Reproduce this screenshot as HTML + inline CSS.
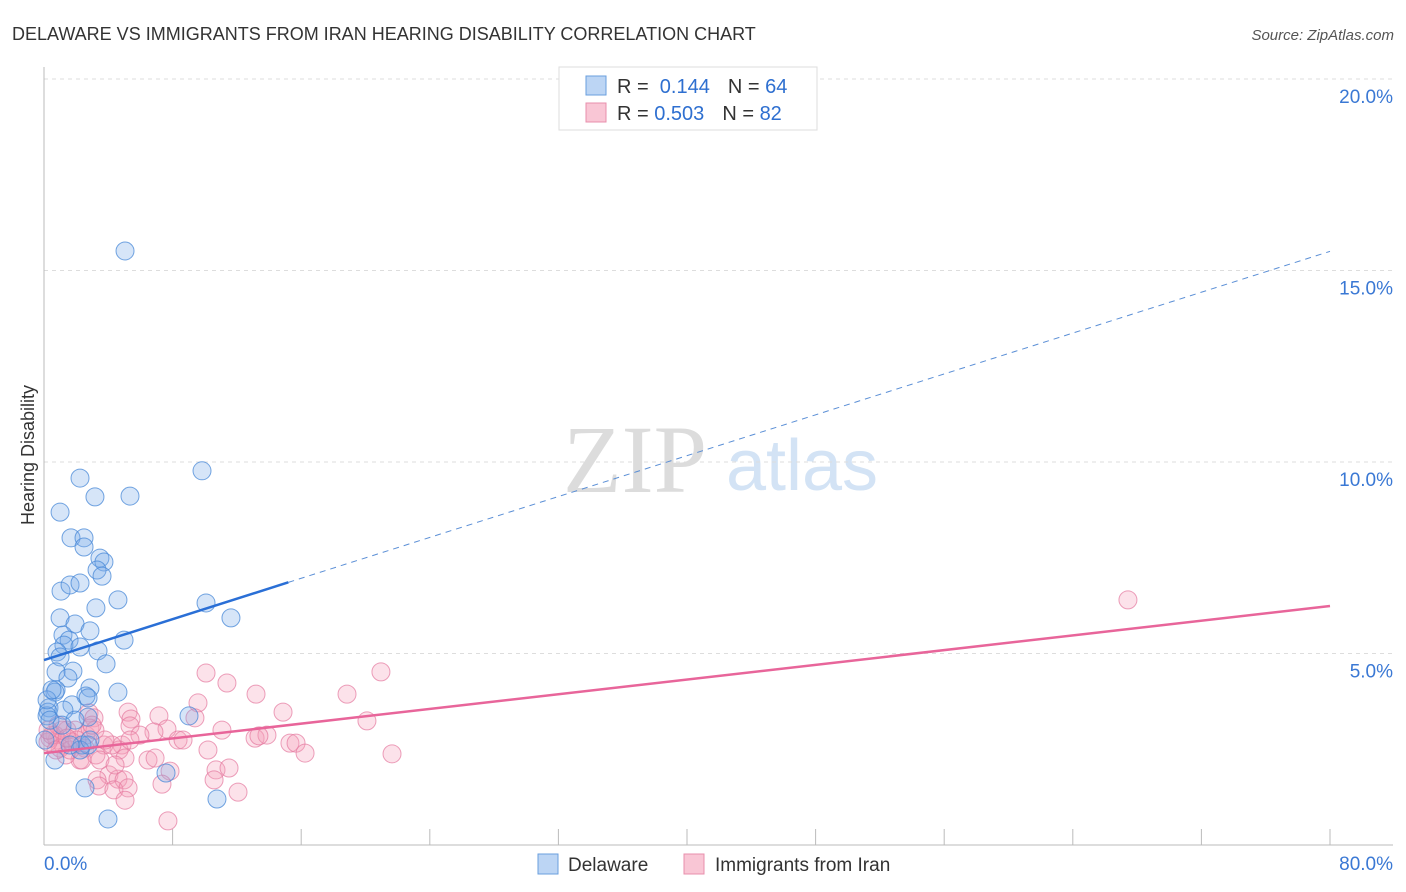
<!DOCTYPE html>
<html><head><meta charset="utf-8"><style>
body{margin:0;background:#fff;font-family:"Liberation Sans",sans-serif;}
svg{display:block}
</style></head><body>
<svg id="chart" width="1406" height="892">
<text x="12" y="40" font-size="18" fill="#333">DELAWARE VS IMMIGRANTS FROM IRAN HEARING DISABILITY CORRELATION CHART</text>
<text x="1394" y="40" font-size="15" fill="#555" font-style="italic" text-anchor="end">Source: ZipAtlas.com</text>
<text transform="translate(34,455) rotate(-90)" font-size="18" fill="#333" text-anchor="middle">Hearing Disability</text>
<g>
<text x="635" y="492" font-size="96" fill="#dcdcdc" font-family="Liberation Serif,serif" text-anchor="middle">ZIP</text>
<text x="802" y="490" font-size="72" fill="#d3e3f5" text-anchor="middle">atlas</text>
</g>
<g id="grid"></g><g id="axes"></g><g id="marks"></g>
<g>
<rect x="559" y="67" width="258" height="63" fill="#fff" stroke="#ddd"/>
<rect x="586" y="76" width="20" height="19" fill="#bcd5f4" stroke="#6a9fde"/>
<rect x="586" y="103" width="20" height="19" fill="#f9c6d5" stroke="#e88fac"/>
<text x="617" y="93" font-size="20" fill="#333">R = <tspan fill="#2e6fd0">&#160;0.144</tspan><tspan dx="18">N = </tspan><tspan fill="#2e6fd0">64</tspan></text>
<text x="617" y="120" font-size="20" fill="#333">R = <tspan fill="#2e6fd0">0.503</tspan><tspan dx="18">N = </tspan><tspan fill="#2e6fd0">82</tspan></text>
</g>
<g>
<rect x="538" y="854" width="20" height="20" fill="#bcd5f4" stroke="#6a9fde"/>
<text x="568" y="871" font-size="19" fill="#333">Delaware</text>
<rect x="684" y="854" width="20" height="20" fill="#f9c6d5" stroke="#e88fac"/>
<text x="715" y="871" font-size="19" fill="#333">Immigrants from Iran</text>
</g>
</svg>
<script>
const yTicks=[5,10,15,20];
const yTickLabels=["5.0%","10.0%","15.0%","20.0%"];
const xTicks=[0,8,16,24,32,40,48,56,64,72,80];
const blueX=[5.04,9.83,2.24,3.17,5.35,1.00,1.68,2.49,2.49,3.48,3.73,3.30,3.61,1.06,1.62,2.24,4.60,3.23,10.08,11.63,1.00,1.93,2.86,4.98,1.18,1.56,1.24,2.24,3.36,0.81,1.00,3.86,1.80,0.75,1.49,0.75,0.68,2.86,4.60,2.61,2.74,0.31,0.25,1.74,1.24,2.74,0.19,0.37,9.02,2.74,2.36,7.59,2.55,10.76,3.98,0.19,0.50,2.24,1.12,1.93,0.68,1.62,0.06,2.86];
const blueY=[15.51,9.77,9.58,9.09,9.11,8.69,8.02,8.02,7.78,7.49,7.39,7.18,7.02,6.63,6.79,6.84,6.40,6.19,6.32,5.93,5.93,5.77,5.59,5.35,5.48,5.35,5.22,5.17,5.07,5.04,4.91,4.73,4.54,4.52,4.36,4.05,3.99,4.10,3.99,3.89,3.84,3.58,3.47,3.66,3.52,3.34,3.37,3.26,3.37,2.61,2.61,1.88,1.49,1.20,0.68,3.79,4.05,2.48,3.13,3.26,2.22,2.61,2.74,2.74];
const pinkX=[67.43,20.96,10.08,11.38,18.85,13.19,9.58,14.87,5.23,7.15,9.39,5.41,2.80,3.11,20.09,5.35,7.65,11.07,6.84,8.34,8.65,13.13,13.87,13.37,15.30,15.68,21.65,16.24,10.20,4.85,4.67,3.73,2.55,3.23,1.18,0.81,1.43,1.93,0.68,0.37,4.23,3.48,5.04,6.47,6.91,7.84,10.70,11.51,4.04,3.30,4.60,4.98,10.58,3.42,4.35,5.23,12.07,7.34,5.04,7.71,2.24,1.37,1.74,1.00,0.25,0.50,1.62,2.61,2.86,2.05,1.12,5.97,0.87,3.17,3.79,4.42,5.35,0.25,0.75,1.43,2.36,2.99];
const pinkY=[6.40,4.52,4.49,4.23,3.94,3.94,3.71,3.47,3.47,3.37,3.32,3.29,3.45,3.32,3.24,3.11,3.03,3.00,2.95,2.74,2.74,2.79,2.87,2.85,2.66,2.66,2.38,2.40,2.48,2.61,2.48,2.61,2.53,2.35,2.61,2.74,3.00,3.00,2.87,2.79,2.61,2.22,2.27,2.22,2.27,1.93,1.96,2.01,1.83,1.70,1.72,1.70,1.70,1.54,1.44,1.49,1.38,1.59,1.17,0.63,2.22,2.35,2.69,2.53,2.69,2.87,2.48,2.87,3.05,2.74,3.00,2.87,3.13,3.00,2.74,2.09,2.74,3.00,2.48,2.79,2.22,3.13];
const blueTrend=[4.83,15.5];
const blueSolidEnd=15.2;
const pinkTrend=[2.40,6.24];

const NS="http://www.w3.org/2000/svg";
const X=v=>44+v*16.075;
const Y=v=>845-v*38.3;
function mk(tag,attrs,parent){const e=document.createElementNS(NS,tag);for(const k in attrs)e.setAttribute(k,attrs[k]);parent.appendChild(e);return e;}
const grid=document.getElementById('grid'),axes=document.getElementById('axes'),marks=document.getElementById('marks');
yTicks.forEach((t,i)=>{
  const l=mk('line',{x1:44,x2:1393,y1:Y(t),y2:Y(t),stroke:'#ddd','stroke-dasharray':'4,4'},grid);
  
  
  const tx=mk('text',{x:1393,y:Y(t)+24,'font-size':19,fill:'#3a78d4','text-anchor':'end'},axes);
  tx.textContent=yTickLabels[i];
  
  
});
const ya=mk('line',{x1:44,x2:44,y1:67,y2:845,stroke:'#bbb'},axes);


const xa=mk('line',{x1:44,x2:1393,y1:845,y2:845,stroke:'#bbb'},axes);


xTicks.forEach(t=>{
  const l=mk('line',{x1:X(t),x2:X(t),y1:829,y2:845,stroke:'#bbb'},axes);
  
  
});
const xl0=mk('text',{x:44,y:870,'font-size':19,fill:'#3a78d4'},axes);xl0.textContent='0.0%';


const xl1=mk('text',{x:1393,y:870,'font-size':19,fill:'#3a78d4','text-anchor':'end'},axes);xl1.textContent='80.0%';


pinkX.forEach((x,i)=>{
  const c=mk('circle',{cx:X(x),cy:Y(pinkY[i]),r:9,fill:'rgba(244,160,186,0.3)',stroke:'rgba(228,120,158,0.7)','stroke-width':1},marks);
  
  
});
blueX.forEach((x,i)=>{
  const c=mk('circle',{cx:X(x),cy:Y(blueY[i]),r:9,fill:'rgba(120,170,232,0.3)',stroke:'rgba(70,135,215,0.75)','stroke-width':1},marks);
  
  
});
const by=x=>blueTrend[0]+(blueTrend[1]-blueTrend[0])*x/80;
const b1=mk('line',{x1:X(0),y1:Y(by(0)),x2:X(blueSolidEnd),y2:Y(by(blueSolidEnd)),stroke:'#2a6fd6','stroke-width':2.5},marks);


const b2=mk('line',{x1:X(blueSolidEnd),y1:Y(by(blueSolidEnd)),x2:X(80),y2:Y(by(80)),stroke:'#5b8fd6','stroke-width':1,'stroke-dasharray':'6,5'},marks);


const p1=mk('line',{x1:X(0),y1:Y(pinkTrend[0]),x2:X(80),y2:Y(pinkTrend[1]),stroke:'#e8659a','stroke-width':2.5},marks);


</script>
</body></html>
